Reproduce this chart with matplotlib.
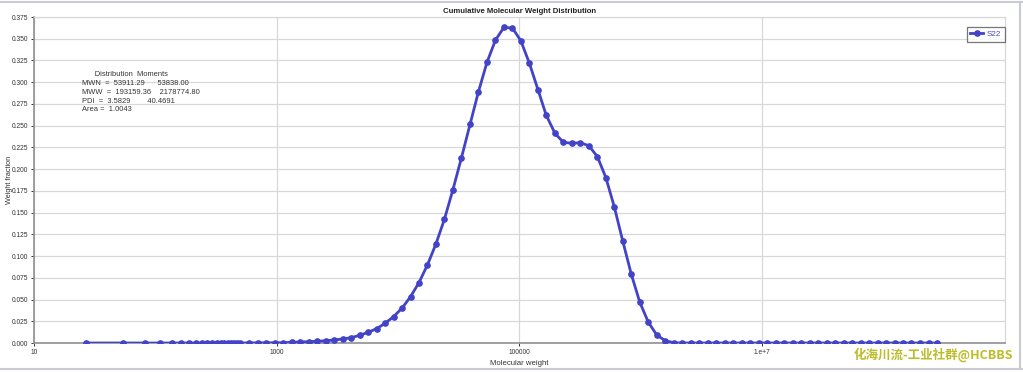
import matplotlib
matplotlib.use("Agg")
import matplotlib.pyplot as plt
from matplotlib.ticker import FixedLocator, FixedFormatter, NullLocator

# ---- data ----
mw_low = [27, 54, 82, 109, 137, 164, 191, 216, 242, 268, 292, 320, 345,
          370, 394, 419, 444, 470, 498]
wf_low = [0.0] * 19

mw_main = [594, 698, 820, 964, 1130, 1330, 1560, 1840, 2160, 2540, 2980,
           3500, 4110, 4830, 5680, 6670, 7830, 9200, 10800, 12700, 14900,
           17500, 20600, 24200, 28400, 33400, 39300, 46100, 54200, 63700,
           74800, 87900, 103000, 121000, 143000, 167000, 197000, 231000,
           272000, 319000, 375000, 441000, 518000, 608000, 714000, 839000,
           986000, 1.16e6, 1.36e6, 1.60e6, 1.88e6, 2.21e6, 2.59e6, 3.05e6,
           3.58e6, 4.21e6, 4.94e6, 5.81e6, 6.82e6, 8.02e6, 9.42e6, 1.11e7,
           1.30e7, 1.53e7, 1.79e7, 2.11e7, 2.48e7, 2.91e7, 3.42e7, 4.02e7,
           4.72e7, 5.55e7, 6.52e7, 7.66e7, 8.99e7, 1.06e8, 1.24e8, 1.46e8,
           1.71e8, 2.01e8, 2.37e8, 2.78e8]
wf_main = [0.0001, 0.0002, 0.0002, 0.0003, 0.0003, 0.0008, 0.0012, 0.0015,
           0.0020, 0.0026, 0.0035, 0.0046, 0.0061, 0.0088, 0.0123, 0.0165,
           0.0226, 0.0303, 0.0400, 0.0533, 0.0694, 0.0897, 0.1142, 0.1426,
           0.1764, 0.2132, 0.2515, 0.2890, 0.3229, 0.3485, 0.3631, 0.3623,
           0.3477, 0.3221, 0.2910, 0.2619, 0.2412, 0.2309, 0.2297, 0.2304,
           0.2269, 0.2143, 0.1901, 0.1564, 0.1170, 0.0790, 0.0468, 0.0238,
           0.0092, 0.0026, 0.0003] + [0.0] * 31

mw = mw_low + mw_main
wf = wf_low + wf_main

series_name = "S22"
x_ticks = [10, 1000, 100000, 1e7]
x_tick_labels = ["10", "1000", "100000", "1.e+7"]
y_ticks = [0.000, 0.025, 0.050, 0.075, 0.100, 0.125, 0.150, 0.175, 0.200,
           0.225, 0.250, 0.275, 0.300, 0.325, 0.350, 0.375]
moments_lines = [
    "      Distribution  Moments",
    "MWN  =  53911.29      53838.00",
    "MWW  =  193159.36    2178774.80",
    "PDI  =  3.5829        40.4691",
    "Area =  1.0043",
]

FONT = "Liberation Sans"
LINE = "#4343c8"

fig = plt.figure(figsize=(10.23, 3.72), dpi=100)
fig.patch.set_facecolor("white")
ax = fig.add_axes([34 / 1023, 1 - 343 / 372, (1004.5 - 34) / 1023, (343 - 17) / 372])

ax.plot(mw, wf, color=LINE, lw=2.0, marker="o", ms=3.8, mfc=LINE, mec=LINE,
        label=series_name, zorder=3)

ax.set_xscale("log")
ax.set_xlim(10, 1e9)
ax.set_ylim(0, 0.375)
ax.xaxis.set_major_locator(FixedLocator(x_ticks))
ax.xaxis.set_major_formatter(FixedFormatter(x_tick_labels))
ax.xaxis.set_minor_locator(NullLocator())
ax.set_yticks(y_ticks)
ax.set_yticklabels([f"{v:.3f}" for v in y_ticks])

ax.grid(True, color="#d8d8d8", lw=0.9, zorder=0)
ax.set_axisbelow(True)
for side in ("top", "right"):
    ax.spines[side].set_color("#d8d8d8")
    ax.spines[side].set_linewidth(0.9)
ax.spines["left"].set_color("#909090")
ax.spines["left"].set_linewidth(1.2)
ax.spines["bottom"].set_color("#909090")
ax.spines["bottom"].set_linewidth(1.2)

ax.tick_params(axis="both", labelsize=4.8, colors="#333333", length=2.5,
               width=0.7, pad=1.5)
for lab in ax.get_xticklabels() + ax.get_yticklabels():
    lab.set_fontfamily(FONT)

ax.set_title("Cumulative Molecular Weight Distribution", fontsize=5.6,
             fontweight="bold", family=FONT, color="#222222", pad=3)
ax.set_xlabel("Molecular weight", fontsize=5.6, family=FONT, color="#333333",
              labelpad=3)
ax.set_ylabel("Weight fraction", fontsize=5.2, family=FONT, color="#333333")
ax.yaxis.set_label_coords(-21 / 970.5, 0.5)

for i, line in enumerate(moments_lines):
    fig.text(82 / 1023, 1 - (75 + i * 8.7) / 372, line, fontsize=5.4,
             family=FONT, color="#333333", va="center", ha="left")

leg = ax.legend(loc="upper right", bbox_to_anchor=(1.0, 0.97),
                frameon=True, fancybox=False, handlelength=1.6,
                borderpad=0.45, handletextpad=0.4, borderaxespad=0.0,
                prop={"family": FONT, "size": 5.8})
leg.get_frame().set_edgecolor("#555555")
leg.get_frame().set_linewidth(0.9)
for t in leg.get_texts():
    t.set_color(LINE)

# watermark
fig.text(1013 / 1023, 1 - 355 / 372, "化海川流-工业社群@HCBBS", fontsize=9,
         family=["Noto Sans CJK SC", "DejaVu Sans"], color="#bcbc28",
         ha="right", va="center", fontweight="bold")

# outer frame lines
fig.add_artist(plt.Line2D([0, 1], [1 - 2 / 372, 1 - 2 / 372], color="#c8ccd2",
                          lw=1.5, transform=fig.transFigure))
fig.add_artist(plt.Line2D([0, 1], [1 - 369 / 372, 1 - 369 / 372],
                          color="#c8ccd2", lw=1.5, transform=fig.transFigure))
fig.add_artist(plt.Line2D([1020 / 1023, 1020 / 1023], [1 - 369 / 372, 1 - 2 / 372],
                          color="#c8ccd2", lw=1.5, transform=fig.transFigure))

fig.savefig("out.png", dpi=100, facecolor="white")
